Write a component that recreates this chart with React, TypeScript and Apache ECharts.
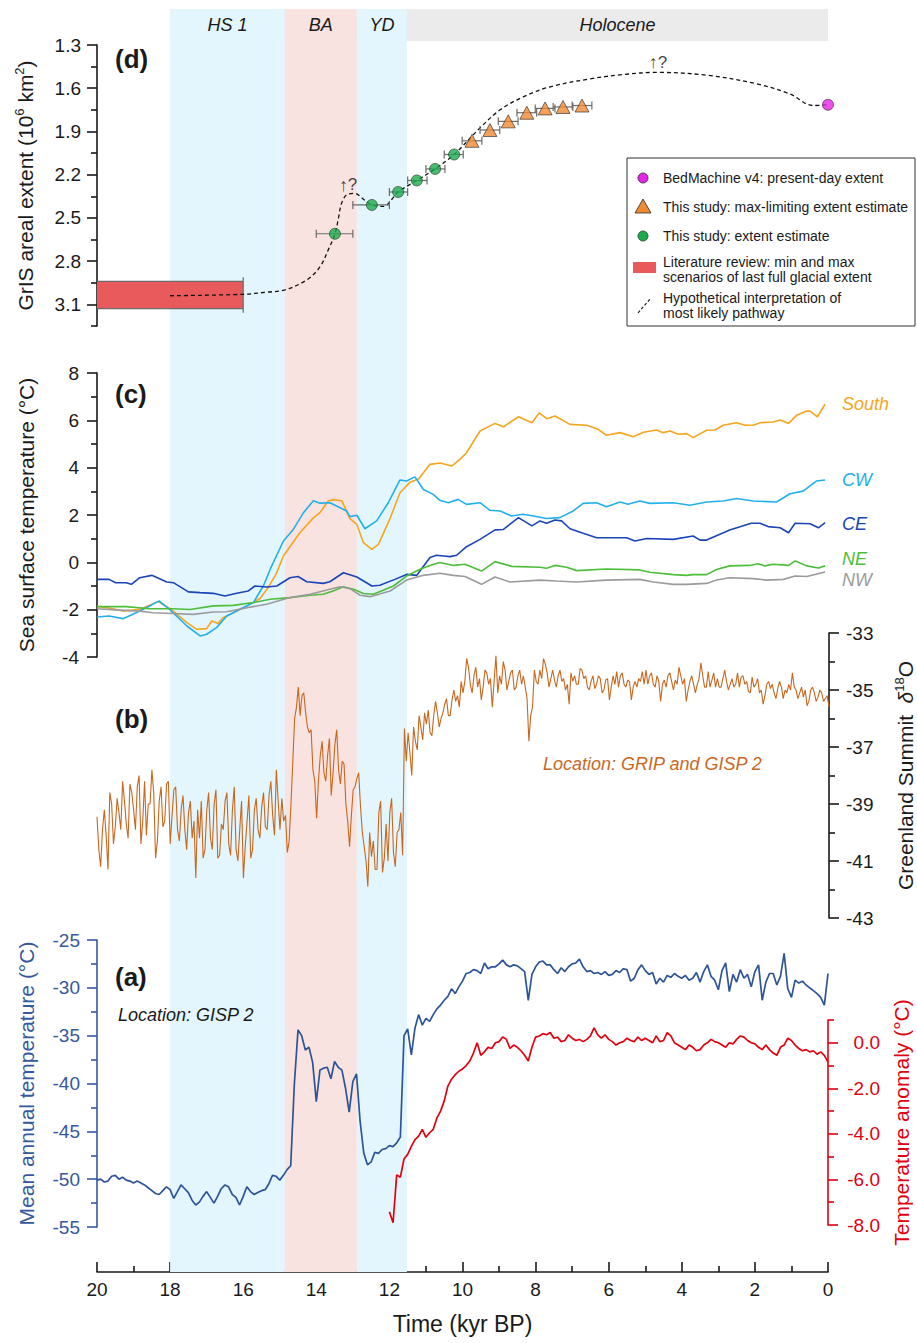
import React, { useEffect, useRef } from 'react';
import * as echarts from 'echarts';

const FONT = '"Liberation Sans", Arial, Helvetica, sans-serif';

// ---------- Period bands (kyr BP) ----------
const PERIOD_NAMES = ['HS 1', 'BA', 'YD', 'Holocene'];
const PERIOD_FROM = [18, 14.86, 12.89, 11.52];
const PERIOD_TO = [14.86, 12.89, 11.52, 0];
const PERIOD_COLORS = ['#E3F6FD', '#F9E3E0', '#E3F6FD', '#EBEBEB'];
const PERIOD_FULL = [true, true, true, false];

// ---------- Ticks ----------
const D_MAJOR = [1.3, 1.6, 1.9, 2.2, 2.5, 2.8, 3.1];
const D_MINOR = [1.45, 1.75, 2.05, 2.35, 2.65, 2.95, 3.25];
const B_MAJOR = [-43, -41, -39, -37, -35, -33];
const B_MINOR = [-42, -40, -38, -36, -34];
const R_MAJOR = [-8, -6, -4, -2, 0];
const R_MINOR = [-7, -5, -3, -1, 1];

// ---------- Panel (d): GrIS areal extent ----------
const LIT_RANGE = [[20, 16, 2.94, 3.13]]; // [tFrom, tTo, vTop, vBottom]
const PATHWAY = [
  [18, 3.04], [16, 3.03], [15.36, 3.015], [14.86, 3.0], [14.26, 2.93], [13.9, 2.84], [13.67, 2.72],
  [13.49, 2.61], [13.4, 2.51], [13.31, 2.4], [13.17, 2.34], [12.94, 2.33], [12.71, 2.37], [12.48, 2.41],
  [12.17, 2.42], [11.76, 2.32], [11.25, 2.24], [10.75, 2.16], [10.23, 2.06], [9.52, 1.875], [8.97, 1.75],
  [8.34, 1.66], [7.6, 1.59], [6.51, 1.535], [5.6, 1.505], [4.68, 1.49], [3.31, 1.51], [1.94, 1.57],
  [1.04, 1.64], [0.41, 1.72], [0, 1.715],
];
const EXTENT_EST = [
  [13.49, 2.61, 14.0, 13.0], [12.48, 2.41, 13.0, 12.0], [11.76, 2.32, 12.0, 11.5],
  [11.25, 2.24, 11.5, 10.97], [10.75, 2.16, 11.0, 10.48], [10.23, 2.06, 10.5, 9.98],
];
const MAXLIM_EST = [
  [9.74, 1.965, 10.01, 9.47], [9.25, 1.89, 9.52, 8.98], [8.75, 1.83, 9.02, 8.48], [8.24, 1.77, 8.51, 7.97],
  [7.74, 1.74, 8.01, 7.47], [7.25, 1.73, 7.52, 6.98], [6.73, 1.72, 7.0, 6.46],
];
const PRESENT = [[0, 1.715]];
const NOTES = [[13.13, 2.27], [4.65, 1.418]];

// ---------- Panel (c): SST ----------
const SOUTH = [
  [20, -1.85], [19.6, -1.95], [19.29, -2.06], [18.82, -1.98], [18.33, -1.66], [18.0, -1.96], [17.54, -2.55],
  [17.27, -2.83], [17.0, -2.8], [16.86, -2.48], [16.69, -2.58], [16.55, -2.34], [16.28, -2.14], [15.9, -1.85],
  [15.54, -1.53], [15.35, -1.14], [15.1, -0.5], [14.9, 0.27], [14.45, 1.25], [14.08, 1.88], [13.9, 2.1],
  [13.67, 2.6], [13.54, 2.65], [13.3, 2.6], [13.08, 1.85], [12.89, 1.6], [12.71, 0.83], [12.48, 0.55],
  [12.3, 0.76], [11.98, 1.86], [11.71, 2.94], [11.44, 3.38], [11.2, 3.52], [10.89, 4.14], [10.61, 4.2],
  [10.3, 4.07], [10.07, 4.35], [9.89, 4.63], [9.52, 5.55], [9.11, 5.87], [8.88, 5.73], [8.47, 6.15],
  [8.1, 5.9], [7.9, 6.32], [7.7, 6.07], [7.47, 6.18], [7.06, 5.83], [6.6, 5.79], [6.29, 5.62], [6.06, 5.37],
  [5.69, 5.48], [5.33, 5.31], [5.05, 5.5], [4.69, 5.59], [4.51, 5.48], [4.32, 5.55], [4.1, 5.41],
  [3.87, 5.44], [3.69, 5.27], [3.32, 5.58], [3.09, 5.59], [2.87, 5.79], [2.5, 5.9], [2.27, 5.79],
  [2.05, 5.79], [1.86, 5.9], [1.5, 5.93], [1.31, 6.01], [1.08, 5.87], [0.86, 6.21], [0.58, 6.39],
  [0.49, 6.39], [0.29, 6.15], [0.08, 6.68],
];
const CW = [
  [20, -2.31], [19.67, -2.27], [19.29, -2.38], [18.93, -2.13], [18.65, -1.92], [18.3, -1.63], [18.0, -2.01],
  [17.54, -2.69], [17.18, -3.11], [17.0, -3.04], [16.73, -2.76], [16.45, -2.27], [16.09, -1.98], [15.72, -1.7],
  [15.45, -1.0], [15.26, -0.29], [14.9, 0.9], [14.63, 1.39], [14.35, 2.1], [14.08, 2.6], [13.9, 2.5],
  [13.63, 2.52], [13.35, 2.31], [13.17, 2.17], [13.08, 1.93], [12.89, 1.99], [12.67, 1.42], [12.35, 1.75],
  [12.03, 2.52], [11.71, 3.48], [11.53, 3.44], [11.3, 3.61], [11.07, 3.08], [10.8, 2.87], [10.62, 2.62],
  [10.39, 2.52], [10.12, 2.66], [9.89, 2.45], [9.52, 2.52], [9.25, 2.2], [8.97, 2.17], [8.66, 1.96],
  [8.34, 2.03], [8.06, 1.96], [7.7, 1.85], [7.34, 1.89], [6.97, 2.17], [6.7, 2.49], [6.33, 2.52],
  [6.06, 2.35], [5.69, 2.55], [5.47, 2.45], [5.15, 2.59], [4.87, 2.49], [4.23, 2.52], [3.78, 2.41],
  [3.32, 2.55], [2.87, 2.59], [2.5, 2.7], [2.05, 2.59], [1.41, 2.55], [1.04, 2.9], [0.68, 3.01],
  [0.31, 3.44], [0.08, 3.48],
];
const CE = [
  [20, -0.72], [19.67, -0.72], [19.49, -0.86], [19.2, -0.86], [19.06, -0.93], [18.83, -0.65], [18.5, -0.55],
  [18.09, -0.83], [17.91, -0.86], [17.5, -1.25], [17.18, -1.28], [16.82, -1.31], [16.5, -1.42], [16.18, -1.31],
  [15.86, -1.21], [15.68, -1.0], [15.36, -1.04], [15.08, -1.0], [14.72, -0.65], [14.5, -0.6], [14.26, -0.82],
  [13.81, -0.89], [13.63, -0.82], [13.26, -0.44], [12.89, -0.62], [12.48, -1.0], [12.26, -0.97],
  [11.85, -0.72], [11.53, -0.51], [11.25, -0.55], [10.89, 0.2], [10.71, 0.3], [10.52, 0.27], [10.34, 0.24],
  [10.16, 0.3], [9.89, 0.66], [9.52, 0.97], [9.11, 1.37], [8.88, 1.39], [8.47, 1.89], [8.1, 1.54],
  [7.88, 1.75], [7.7, 1.65], [7.47, 1.79], [7.29, 1.75], [7.06, 1.42], [6.7, 1.23], [6.33, 1.04],
  [5.51, 1.04], [5.28, 0.9], [4.96, 1.01], [4.23, 0.97], [3.69, 1.11], [3.5, 0.94], [3.32, 0.94],
  [2.69, 1.37], [2.1, 1.65], [1.86, 1.65], [1.64, 1.51], [1.31, 1.46], [1.08, 1.25], [0.9, 1.65],
  [0.49, 1.63], [0.26, 1.46], [0.08, 1.68],
];
const NE = [
  [20, -1.87], [19.2, -1.87], [18.56, -1.96], [17.91, -1.96], [17.45, -1.99], [16.82, -1.84], [16.27, -1.82],
  [15.72, -1.7], [15.26, -1.56], [14.72, -1.49], [14.17, -1.39], [13.81, -1.35], [13.54, -1.21],
  [13.26, -1.03], [12.98, -1.14], [12.71, -1.32], [12.44, -1.35], [11.89, -1.0], [11.53, -0.58],
  [11.16, -0.29], [10.89, -0.13], [10.62, -0.01], [10.25, -0.13], [9.93, -0.08], [9.48, -0.37], [9.11, 0.03],
  [8.66, -0.17], [7.88, -0.21], [7.7, -0.25], [7.47, -0.13], [7.15, -0.21], [6.88, -0.35], [6.06, -0.28],
  [5.15, -0.32], [4.87, -0.42], [4.23, -0.52], [3.87, -0.55], [3.69, -0.52], [3.32, -0.52], [3.05, -0.3],
  [2.69, -0.15], [2.14, -0.13], [1.91, -0.06], [1.73, -0.15], [1.5, -0.08], [1.08, -0.13], [0.9, 0.06],
  [0.58, -0.15], [0.26, -0.24], [0.08, -0.15],
];
const NW = [
  [20, -1.96], [19.49, -2.01], [18.83, -2.06], [18.47, -2.13], [17.91, -2.16], [17.36, -2.2], [16.82, -2.1],
  [16.45, -2.09], [15.9, -1.92], [15.36, -1.77], [14.72, -1.49], [14.17, -1.35], [13.63, -1.14],
  [13.35, -1.03], [13.08, -1.11], [12.8, -1.39], [12.53, -1.45], [11.98, -1.21], [11.53, -0.75],
  [11.07, -0.55], [10.62, -0.46], [10.25, -0.55], [9.93, -0.6], [9.48, -0.93], [9.11, -0.62], [8.7, -0.83],
  [7.88, -0.75], [7.43, -0.79], [6.88, -0.83], [6.06, -0.75], [5.15, -0.72], [4.78, -0.83], [4.23, -0.93],
  [3.87, -0.93], [3.32, -0.89], [3.05, -0.75], [2.69, -0.65], [2.05, -0.69], [1.68, -0.75], [1.22, -0.72],
  [0.9, -0.58], [0.58, -0.6], [0.08, -0.41],
];

// ---------- Panel (b): Greenland Summit d18O ----------
// values at 20.0, 19.9, ..., 0.0 kyr
const D18O_START = 20;
const D18O = [
  -39.45, -41.2, -39.2, -41.3, -39.0, -39.8, -39.3, -38.2, -39.7, -38.3, -39.2,
  -38.4, -40.4, -38.2, -39.0, -37.8, -40.9, -38.9, -39.8, -38.3, -40.4,
  -38.5, -39.9, -39.2, -39.9, -39.3, -40.2, -41.6, -40.2, -40.9, -39.2,
  -40.2, -39.0, -40.9, -39.7, -38.9, -40.4, -39.2, -40.6, -39.9, -41.6,
  -39.6, -40.9, -39.2, -39.9, -39.1, -39.8, -38.7, -39.4, -37.8, -39.9,
  -39.6, -40.7, -39.0, -36.0, -34.9, -35.2, -35.8, -36.5, -37.8, -39.5,
  -37.3, -37.9, -37.3, -38.7, -36.9, -37.8, -37.5, -39.0, -40.5, -38.5,
  -38.1, -39.1, -40.5, -41.9, -40.85, -41.3, -39.3, -41.4, -39.7, -39.3,
  -40.7, -40.0, -39.3, -36.35, -36.5, -38.0, -36.8, -35.9, -36.75, -36.2,
  -36.5, -35.9, -35.8, -36.0, -35.5, -35.9, -35.35, -35.4, -35.6, -35.1,
  -33.9, -34.8, -34.5, -34.9, -35.35, -34.3, -34.8, -35.6, -33.8, -34.5,
  -34.0, -35.0, -34.4, -35.0, -34.5, -34.8, -34.9, -36.8, -35.6, -34.7,
  -34.3, -33.9, -34.4, -34.6, -34.65, -34.5, -34.7, -35.0, -35.5, -34.7,
  -34.8, -34.25, -34.6, -34.9, -34.7, -34.95, -34.5, -35.1, -34.65, -35.35,
  -34.5, -34.35, -34.5, -34.8, -34.65, -35.35, -34.7, -34.6, -34.35, -34.3,
  -34.5, -34.8, -34.5, -35.4, -34.65, -34.5, -34.7, -34.65, -34.2, -34.8,
  -35.4, -34.7, -34.8, -34.8, -34.05, -34.9, -34.35, -34.65, -34.9, -34.9,
  -34.6, -34.7, -34.8, -34.9, -34.4, -34.55, -34.8, -35.05, -34.55, -34.8,
  -35.1, -35.5, -34.8, -34.95, -35.1, -34.95, -34.9, -35.0, -34.8, -34.4,
  -35.0, -35.1, -35.25, -35.55, -35.0, -35.1, -35.25, -35.1, -35.3, -35.6,
];
// values at 19.95, 19.85, ..., 0.05 kyr
const D18O_MID = [
  -40.6, -39.9, -40.1, -38.6, -40.4, -38.8, -39.9, -38.9, -40.2, -38.6,
  -39.9, -38.0, -39.6, -40.1, -39.0, -38.6, -40.3, -38.4, -39.6, -38.2,
  -39.4, -38.4, -40.3, -38.7, -40.6, -38.9, -39.6, -39.2, -38.9, -40.6,
  -38.6, -40.6, -38.5, -40.8, -39.9, -38.6, -40.8, -38.4, -41.0, -38.9,
  -40.5, -38.7, -40.6, -38.8, -40.2, -38.6, -39.9, -38.2, -40.1, -38.9,
  -38.8, -39.4, -40.3, -37.5, -35.6, -35.9, -35.1, -36.3, -36.4, -38.2,
  -38.2, -36.8, -38.2, -36.7, -37.9, -36.4, -38.3, -37.6, -39.6, -39.4,
  -38.4, -37.9, -40.0, -41.0, -40.0, -40.3, -41.3, -38.9, -40.9, -41.0,
  -38.8, -41.2, -39.9, -40.8, -37.5, -37.2, -36.3, -37.1, -36.3, -35.8,
  -35.7, -36.6, -35.4, -36.3, -35.8, -35.3, -35.9, -35.0, -35.2, -34.7,
  -34.7, -34.2, -35.1, -34.2, -34.6, -34.9, -34.4, -34.6, -34.7, -35.1,
  -34.8, -34.3, -34.7, -34.3, -34.9, -34.3, -34.5, -35.3, -35.9, -34.3,
  -34.8, -34.6, -34.1, -34.9, -34.3, -34.9, -34.3, -34.6, -34.8, -34.4,
  -34.5, -34.8, -34.3, -34.5, -35.0, -34.5, -34.8, -34.6, -35.0, -34.6,
  -34.9, -34.8, -34.9, -34.4, -34.9, -34.7, -34.9, -34.9, -34.7, -34.8,
  -34.8, -34.4, -34.9, -34.7, -34.8, -34.9, -34.4, -35.0, -34.8, -34.5,
  -34.6, -35.0, -34.5, -35.1, -34.6, -34.5, -34.9, -34.9, -34.4, -34.6,
  -34.9, -34.3, -35.0, -34.6, -34.8, -34.9, -34.5, -34.7, -35.1, -34.9,
  -34.6, -35.0, -35.2, -34.7, -34.8, -35.3, -34.7, -35.3, -35.1, -35.0,
  -34.9, -35.3, -34.9, -35.0, -35.4, -34.9, -35.4, -35.0, -35.4, -35.2,
];

// ---------- Panel (a): GISP2 mean annual temperature, 20.0 -> 0.0 at 0.1 kyr ----------
const GISP2_START = 20;
const GISP2_T = [
  -50.1, -50.0, -50.3, -50.2, -49.7, -49.6, -50.0, -49.8, -50.1, -50.2, -50.4,
  -50.2, -50.4, -50.6, -50.9, -51.2, -51.5, -51.6, -51.2, -50.8, -51.1,
  -52.0, -51.3, -50.6, -51.0, -51.4, -52.2, -52.7, -52.4, -51.8, -51.3,
  -51.9, -52.5, -51.8, -51.0, -50.6, -50.8, -51.6, -51.9, -52.7, -51.8,
  -50.8, -51.3, -51.6, -51.4, -51.2, -51.1, -50.5, -49.6, -49.7, -50.1,
  -49.6, -49.0, -48.6, -40.0, -34.4, -35.0, -36.5, -36.2, -37.8, -41.9,
  -38.6, -38.4, -38.3, -39.5, -37.7, -38.3, -38.6, -40.5, -43.0, -39.8,
  -39.0, -44.0, -47.3, -48.5, -48.2, -47.2, -47.3, -46.9, -46.8, -46.5,
  -46.6, -46.2, -45.6, -35.0, -34.3, -37.0, -34.2, -32.8, -33.9, -33.2,
  -33.5, -32.8, -32.2, -31.8, -31.3, -30.9, -30.1, -30.6, -29.9, -29.3,
  -28.5, -28.4, -28.1, -28.2, -28.5, -27.4, -28.0, -27.8, -27.8, -27.5,
  -27.1, -27.6, -27.8, -27.6, -27.7, -28.0, -28.3, -31.3, -28.6, -27.8,
  -27.3, -27.2, -27.6, -27.6, -28.1, -28.5, -27.9, -28.3, -27.8, -27.5,
  -27.4, -27.0, -27.8, -28.3, -28.2, -28.5, -28.4, -28.6, -28.3, -28.7,
  -28.6, -28.2, -28.4, -28.0, -28.1, -29.3, -29.0, -28.1, -27.6, -28.2,
  -28.6, -28.4, -29.6, -29.0, -29.4, -28.7, -28.9, -28.5, -28.8, -29.0,
  -28.7, -29.2, -29.0, -28.4, -29.4, -28.3, -27.6, -28.8, -29.2, -30.2,
  -28.2, -27.4, -30.4, -28.6, -29.4, -28.1, -29.0, -28.6, -29.9, -28.3,
  -27.6, -31.3, -29.4, -28.5, -28.5, -29.7, -28.8, -26.4, -30.1, -31.0,
  -29.2, -29.5, -29.3, -29.7, -30.0, -30.3, -30.6, -31.0, -31.8, -28.5,
];

// ---------- Panel (a): temperature anomaly, 12.0 -> 0.0 at 0.1 kyr ----------
const ANOM_START = 12;
const ANOMALY = [
  -7.42, -7.9, -5.8, -5.9, -5.1, -4.9, -4.55, -4.25, -4.1, -3.8, -4.15,
  -3.95, -3.8, -3.3, -3.0, -2.55, -1.9, -1.6, -1.4, -1.25, -1.15,
  -1.0, -0.8, -0.45, 0.0, -0.55, -0.4, -0.2, -0.25, 0.0, 0.05,
  0.25, 0.15, -0.25, -0.1, -0.2, -0.35, -0.55, -0.8, -0.2, 0.25,
  0.3, 0.4, 0.35, 0.45, 0.2, 0.25, 0.05, 0.1, 0.35, 0.2,
  0.1, 0.15, 0.05, 0.15, 0.3, 0.65, 0.35, 0.2, 0.35, 0.15,
  0.05, -0.1, 0.0, 0.05, 0.2, 0.1, 0.05, 0.25, 0.1, 0.2,
  0.1, 0.0, 0.3, 0.05, 0.1, 0.45, 0.3, 0.0, -0.1, -0.2,
  -0.3, -0.1, -0.2, -0.35, -0.3, -0.1, 0.0, 0.15, 0.05, 0.0,
  -0.1, -0.2, 0.0, -0.05, 0.15, 0.3, 0.25, 0.1, 0.0, -0.05,
  -0.2, -0.3, -0.1, -0.3, -0.45, -0.55, -0.2, -0.1, 0.2, 0.1,
  -0.1, -0.25, -0.35, -0.3, -0.4, -0.35, -0.5, -0.4, -0.55, -0.85,
];

const withTime = (start: number, vals: number[]) =>
  vals.map((v, i) => [Math.round((start - i * 0.1) * 10) / 10, v]);

const interleave = (start: number, main: number[], mid: number[]) => {
  const out: number[][] = [];
  main.forEach((v, i) => {
    const t = Math.round((start - i * 0.1) * 100) / 100;
    out.push([t, v]);
    if (i < mid.length) out.push([Math.round((t - 0.05) * 100) / 100, mid[i]]);
  });
  return out;
};

// ---------- layout ----------
const LEFT = 97;
const WIDTH = 731;
const BAND_TOP = 9;
const BAND_H = 1263;
const HEADER = 32 / 1263;

const INK = '#1a1a1a';
const BLUE_AX = '#3558A0';
const RED_AX = '#E0000F';

function App() {
  const ref = useRef<HTMLDivElement>(null);

  useEffect(() => {
    document.body.style.margin = '0';
    if (!ref.current) return;
    const chart = echarts.init(ref.current, undefined, { renderer: 'svg' });

    const hiddenX = (gridIndex: number) => ({
      type: 'value', gridIndex, min: 0, max: 20, inverse: true, show: false,
      axisLine: { show: false, onZero: false },
    });

    const tickLabel = (extra: any = {}) => ({
      fontSize: 19, color: INK, fontFamily: FONT, ...extra,
    });

    const nameStyle = (color: string) => ({
      fontSize: 21, color, fontFamily: FONT,
    });

    const axLine = (color: string) => ({ show: true, onZero: false, lineStyle: { color, width: 1.6 } });
    const noLine = { show: false, onZero: false };

    const grid = (top: number, height: number, width = WIDTH) => ({
      left: LEFT, top, width, height, containLabel: false, outerBoundsMode: 'none',
    });

    // band markArea items
    const bandItems: any[] = [];
    PERIOD_NAMES.forEach((name, i) => {
      if (PERIOD_FULL[i]) {
        bandItems.push([
          { xAxis: PERIOD_FROM[i], yAxis: 0, itemStyle: { color: PERIOD_COLORS[i] }, label: { show: false } },
          { xAxis: PERIOD_TO[i], yAxis: 1 },
        ]);
      }
      bandItems.push([
        {
          name, xAxis: PERIOD_FROM[i], yAxis: 0, itemStyle: { color: PERIOD_COLORS[i] },
          label: {
            show: true, position: 'inside', fontSize: 18, fontStyle: 'italic', color: INK, fontFamily: FONT,
          },
        },
        { xAxis: PERIOD_TO[i], yAxis: HEADER },
      ]);
    });

    const errorBarRender = (params: any, api: any) => {
      const y = api.value(1);
      const p1 = api.coord([api.value(2), y]);
      const p2 = api.coord([api.value(3), y]);
      const h = 4;
      const st = { stroke: '#6b6b6b', lineWidth: 1.2 };
      return {
        type: 'group',
        children: [
          { type: 'line', shape: { x1: p1[0], y1: p1[1], x2: p2[0], y2: p2[1] }, style: st },
          { type: 'line', shape: { x1: p1[0], y1: p1[1] - h, x2: p1[0], y2: p1[1] + h }, style: st },
          { type: 'line', shape: { x1: p2[0], y1: p2[1] - h, x2: p2[0], y2: p2[1] + h }, style: st },
        ],
      };
    };

    const litRender = (params: any, api: any) => {
      const a = api.coord([api.value(0), api.value(2)]);
      const b = api.coord([api.value(1), api.value(3)]);
      const st = { stroke: '#6b6b6b', lineWidth: 1.2 };
      return {
        type: 'group',
        children: [
          { type: 'rect', shape: { x: a[0], y: a[1], width: b[0] - a[0], height: b[1] - a[1] }, style: { fill: '#E85A5B' } },
          { type: 'line', shape: { x1: a[0], y1: a[1], x2: b[0], y2: a[1] }, style: st },
          { type: 'line', shape: { x1: a[0], y1: b[1], x2: b[0], y2: b[1] }, style: st },
          { type: 'line', shape: { x1: b[0], y1: a[1] - 4, x2: b[0], y2: b[1] + 4 }, style: st },
        ],
      };
    };

    const sstLine = (name: string, data: number[][], color: string, dy: number) => ({
      name, type: 'line', xAxisIndex: 2, yAxisIndex: 3, data, symbol: 'none', z: 3,
      lineStyle: { color, width: 1.6 },
      endLabel: {
        show: true, formatter: '{a}', color, fontSize: 18, fontStyle: 'italic', fontFamily: FONT,
        align: 'left', distance: -17, offset: [0, dy],
      },
    });

    const supRich = {
      n: { fontSize: 21, color: INK, fontFamily: FONT, lineHeight: 24 },
      i: { fontSize: 21, color: INK, fontFamily: FONT, lineHeight: 24, fontStyle: 'italic' },
      s: { fontSize: 13, color: INK, fontFamily: FONT, verticalAlign: 'top', lineHeight: 24 },
    };

    const option: any = {
      animation: false,
      backgroundColor: '#ffffff',
      textStyle: { fontFamily: FONT },
      grid: [
        grid(BAND_TOP, BAND_H),
        grid(45, 281),
        grid(373, 284),
        grid(633, 285, WIDTH + 1),
        grid(940, 287),
        grid(1020, 205),
      ],
      xAxis: [
        {
          type: 'value', gridIndex: 0, min: 0, max: 20, interval: 2, inverse: true, position: 'bottom',
          axisLine: axLine(INK),
          axisTick: { show: true, inside: true, length: 10, lineStyle: { color: INK, width: 1.6 } },
          minorTick: { show: true, splitNumber: 2, length: 6, lineStyle: { color: INK, width: 1.6 } },
          axisLabel: tickLabel({ margin: 8 }),
          splitLine: { show: false },
          name: 'Time (kyr BP)', nameLocation: 'middle', nameGap: 40,
          nameTextStyle: { fontSize: 23, color: INK, fontFamily: FONT },
        },
        hiddenX(1), hiddenX(2), hiddenX(3), hiddenX(4), hiddenX(5),
      ],
      yAxis: [
        { type: 'value', gridIndex: 0, min: 0, max: 1, inverse: true, show: false, axisLine: noLine },
        // 1: panel d
        {
          type: 'value', gridIndex: 1, min: 1.3, max: 3.25, inverse: true, position: 'left',
          axisLine: axLine(INK),
          axisTick: { show: true, length: 10, customValues: D_MAJOR, lineStyle: { color: INK, width: 1.6 } },
          axisLabel: tickLabel({ customValues: D_MAJOR, margin: 16, formatter: (v: number) => v.toFixed(1) }),
          splitLine: { show: false },
          name: '{n|GrIS areal extent (10}{s|6}{n| km}{s|2}{n|)}',
          nameLocation: 'middle', nameGap: 60, nameRotate: 90,
          nameTextStyle: { ...nameStyle(INK), rich: supRich },
        },
        // 2: panel d minor ticks
        {
          type: 'value', gridIndex: 1, min: 1.3, max: 3.25, inverse: true, position: 'left',
          axisLine: noLine,
          axisTick: { show: true, length: 6, customValues: D_MINOR, lineStyle: { color: INK, width: 1.6 } },
          axisLabel: { show: false }, splitLine: { show: false },
        },
        // 3: panel c
        {
          type: 'value', gridIndex: 2, min: -4, max: 8, interval: 2, position: 'left',
          axisLine: axLine(INK),
          axisTick: { show: true, length: 10, lineStyle: { color: INK, width: 1.6 } },
          minorTick: { show: true, splitNumber: 2, length: 6, lineStyle: { color: INK, width: 1.6 } },
          axisLabel: tickLabel({ margin: 18 }),
          splitLine: { show: false },
          name: 'Sea surface temperature (°C)', nameLocation: 'middle', nameGap: 60, nameRotate: 90,
          nameTextStyle: nameStyle(INK),
        },
        // 4: panel b
        {
          type: 'value', gridIndex: 3, min: -43, max: -33, position: 'right',
          axisLine: axLine(INK),
          axisTick: { show: true, length: 10, customValues: B_MAJOR, lineStyle: { color: INK, width: 1.6 } },
          axisLabel: tickLabel({ customValues: B_MAJOR, margin: 17 }),
          splitLine: { show: false },
          name: '{n|Greenland Summit  }{i|δ}{s|18}{n|O}',
          nameLocation: 'middle', nameGap: 64, nameRotate: 90,
          nameTextStyle: { ...nameStyle(INK), rich: supRich },
        },
        // 5: panel b minor
        {
          type: 'value', gridIndex: 3, min: -43, max: -33, position: 'right',
          axisLine: noLine,
          axisTick: { show: true, length: 6, customValues: B_MINOR, lineStyle: { color: INK, width: 1.6 } },
          axisLabel: { show: false }, splitLine: { show: false },
        },
        // 6: panel a left
        {
          type: 'value', gridIndex: 4, min: -55, max: -25, interval: 5, position: 'left',
          axisLine: axLine(BLUE_AX),
          axisTick: { show: true, length: 10, lineStyle: { color: BLUE_AX, width: 1.6 } },
          minorTick: { show: true, splitNumber: 2, length: 6, lineStyle: { color: BLUE_AX, width: 1.6 } },
          axisLabel: tickLabel({ margin: 17, color: BLUE_AX }),
          splitLine: { show: false },
          name: 'Mean annual temperature (°C)', nameLocation: 'middle', nameGap: 60, nameRotate: 90,
          nameTextStyle: nameStyle(BLUE_AX),
        },
        // 7: panel a right (anomaly)
        {
          type: 'value', gridIndex: 5, min: -8, max: 1, position: 'right',
          axisLine: axLine(RED_AX),
          axisTick: { show: true, length: 10, customValues: R_MAJOR, lineStyle: { color: RED_AX, width: 1.6 } },
          axisLabel: tickLabel({
            customValues: R_MAJOR, margin: 52, align: 'right', color: RED_AX,
            formatter: (v: number) => v.toFixed(1),
          }),
          splitLine: { show: false },
          name: 'Temperature anomaly (°C)', nameLocation: 'middle', nameGap: 63, nameRotate: 90,
          nameTextStyle: nameStyle(RED_AX),
        },
        // 8: panel a right minor
        {
          type: 'value', gridIndex: 5, min: -8, max: 1, position: 'right',
          axisLine: noLine,
          axisTick: { show: true, length: 6, customValues: R_MINOR, lineStyle: { color: RED_AX, width: 1.6 } },
          axisLabel: { show: false }, splitLine: { show: false },
        },
      ],
      series: [
        {
          name: 'bands', type: 'line', xAxisIndex: 0, yAxisIndex: 0, data: [], silent: true, z: 0,
          markArea: { silent: true, data: bandItems },
        },
        // panel d
        {
          name: 'lit', type: 'custom', xAxisIndex: 1, yAxisIndex: 1, data: LIT_RANGE, renderItem: litRender,
          encode: { x: [0, 1], y: [2, 3] }, z: 2, silent: true,
        },
        {
          name: 'pathway', type: 'line', xAxisIndex: 1, yAxisIndex: 1, data: PATHWAY, smooth: 0.35,
          symbol: 'none', z: 3, lineStyle: { color: '#111', width: 1.3, type: [4, 3] },
        },
        {
          name: 'errEst', type: 'custom', xAxisIndex: 1, yAxisIndex: 1, data: EXTENT_EST,
          renderItem: errorBarRender, encode: { x: [0, 2, 3], y: 1 }, z: 4, silent: true,
        },
        {
          name: 'errMax', type: 'custom', xAxisIndex: 1, yAxisIndex: 1, data: MAXLIM_EST,
          renderItem: errorBarRender, encode: { x: [0, 2, 3], y: 1 }, z: 4, silent: true,
        },
        {
          name: 'extent', type: 'scatter', xAxisIndex: 1, yAxisIndex: 1, data: EXTENT_EST.map((d) => [d[0], d[1]]),
          symbol: 'circle', symbolSize: 11, z: 5,
          itemStyle: { color: '#1DAA4C', borderColor: '#1f3d24', borderWidth: 0.8 },
        },
        {
          name: 'maxlim', type: 'scatter', xAxisIndex: 1, yAxisIndex: 1, data: MAXLIM_EST.map((d) => [d[0], d[1]]),
          symbol: 'triangle', symbolSize: [14, 13], z: 5,
          itemStyle: { color: '#F08A32', borderColor: '#2a2a2a', borderWidth: 0.8 },
        },
        {
          name: 'present', type: 'scatter', xAxisIndex: 1, yAxisIndex: 1, data: PRESENT,
          symbol: 'circle', symbolSize: 11, z: 5,
          itemStyle: { color: '#E524E5', borderColor: '#3a1a3a', borderWidth: 0.8 },
        },
        {
          name: 'notes', type: 'scatter', xAxisIndex: 1, yAxisIndex: 1, data: NOTES,
          symbolSize: 1, itemStyle: { color: 'rgba(0,0,0,0)' }, z: 6, silent: true,
          label: {
            show: true, position: 'inside', formatter: '{a|↑}{b|?}',
            rich: {
              a: { fontSize: 18, fontWeight: 'bold', color: '#111', fontFamily: FONT },
              b: { fontSize: 17, color: '#111', fontFamily: FONT },
            },
          },
        },
        // panel c
        sstLine('South', SOUTH, '#F7A51E', 0),
        sstLine('CW', CW, '#22B0EC', 0),
        sstLine('CE', CE, '#1A45B6', 1),
        sstLine('NE', NE, '#4CBE3A', -7),
        sstLine('NW', NW, '#9B9B9B', 8),
        // panel b
        {
          name: 'd18O', type: 'line', xAxisIndex: 3, yAxisIndex: 4, data: interleave(D18O_START, D18O, D18O_MID),
          symbol: 'none', z: 3, lineStyle: { color: '#C9671E', width: 1.1 },
        },
        // panel a
        {
          name: 'GISP2', type: 'line', xAxisIndex: 4, yAxisIndex: 6, data: withTime(GISP2_START, GISP2_T),
          symbol: 'none', z: 3, lineStyle: { color: '#2D5497', width: 1.7 },
        },
        {
          name: 'anomaly', type: 'line', xAxisIndex: 5, yAxisIndex: 7, data: withTime(ANOM_START, ANOMALY),
          symbol: 'none', z: 3, lineStyle: { color: '#E3000F', width: 1.7 },
        },
      ],
      graphic: [
        // panel letters
        { type: 'text', left: 115, top: 46, z: 50, style: { text: '(d)', fontSize: 26, fontWeight: 'bold', fill: INK, fontFamily: FONT } },
        { type: 'text', left: 115, top: 381, z: 50, style: { text: '(c)', fontSize: 26, fontWeight: 'bold', fill: INK, fontFamily: FONT } },
        { type: 'text', left: 115, top: 706, z: 50, style: { text: '(b)', fontSize: 26, fontWeight: 'bold', fill: INK, fontFamily: FONT } },
        { type: 'text', left: 115, top: 964, z: 50, style: { text: '(a)', fontSize: 26, fontWeight: 'bold', fill: INK, fontFamily: FONT } },
        { type: 'text', left: 118, top: 1006, z: 50, style: { text: 'Location: GISP 2', fontSize: 18, fontStyle: 'italic', fill: INK, fontFamily: FONT } },
        { type: 'text', left: 543, top: 755, z: 50, style: { text: 'Location: GRIP and GISP 2', fontSize: 18, fontStyle: 'italic', fill: '#C9671E', fontFamily: FONT } },
        // legend
        {
          type: 'group', z: 60,
          children: [
            { type: 'rect', shape: { x: 627, y: 158, width: 288, height: 168 }, style: { fill: '#fff', stroke: '#333', lineWidth: 1 } },
            { type: 'circle', shape: { cx: 643, cy: 178, r: 5 }, style: { fill: '#E524E5', stroke: '#3a1a3a', lineWidth: 0.8 } },
            { type: 'polygon', shape: { points: [[643, 199], [635, 213], [651, 213]] }, style: { fill: '#F08A32', stroke: '#2a2a2a', lineWidth: 0.8 } },
            { type: 'circle', shape: { cx: 643, cy: 236, r: 5 }, style: { fill: '#1DAA4C', stroke: '#1f3d24', lineWidth: 0.8 } },
            { type: 'rect', shape: { x: 633, y: 262, width: 23, height: 11 }, style: { fill: '#E85A5B' } },
            { type: 'line', shape: { x1: 638, y1: 313, x2: 651, y2: 298 }, style: { stroke: '#111', lineWidth: 1.1, lineDash: [3, 2] } },
            { type: 'text', style: { text: 'BedMachine v4: present-day extent', x: 663, y: 178, fontSize: 14, fill: INK, fontFamily: FONT, verticalAlign: 'middle', textVerticalAlign: 'middle' } },
            { type: 'text', style: { text: 'This study: max-limiting extent estimate', x: 663, y: 207, fontSize: 14, fill: INK, fontFamily: FONT, verticalAlign: 'middle', textVerticalAlign: 'middle' } },
            { type: 'text', style: { text: 'This study: extent estimate', x: 663, y: 236, fontSize: 14, fill: INK, fontFamily: FONT, verticalAlign: 'middle', textVerticalAlign: 'middle' } },
            { type: 'text', style: { text: 'Literature review: min and max', x: 663, y: 262, fontSize: 14, fill: INK, fontFamily: FONT, verticalAlign: 'middle', textVerticalAlign: 'middle' } },
            { type: 'text', style: { text: 'scenarios of last full glacial extent', x: 663, y: 277, fontSize: 14, fill: INK, fontFamily: FONT, verticalAlign: 'middle', textVerticalAlign: 'middle' } },
            { type: 'text', style: { text: 'Hypothetical interpretation of', x: 663, y: 298, fontSize: 14, fill: INK, fontFamily: FONT, verticalAlign: 'middle', textVerticalAlign: 'middle' } },
            { type: 'text', style: { text: 'most likely pathway', x: 663, y: 313, fontSize: 14, fill: INK, fontFamily: FONT, verticalAlign: 'middle', textVerticalAlign: 'middle' } },
          ],
        },
      ],
    };

    chart.setOption(option);
    return () => {
      chart.dispose();
    };
  }, []);

  return <div ref={ref} style={{ width: 917, height: 1343 }} />;
}

export default App;
